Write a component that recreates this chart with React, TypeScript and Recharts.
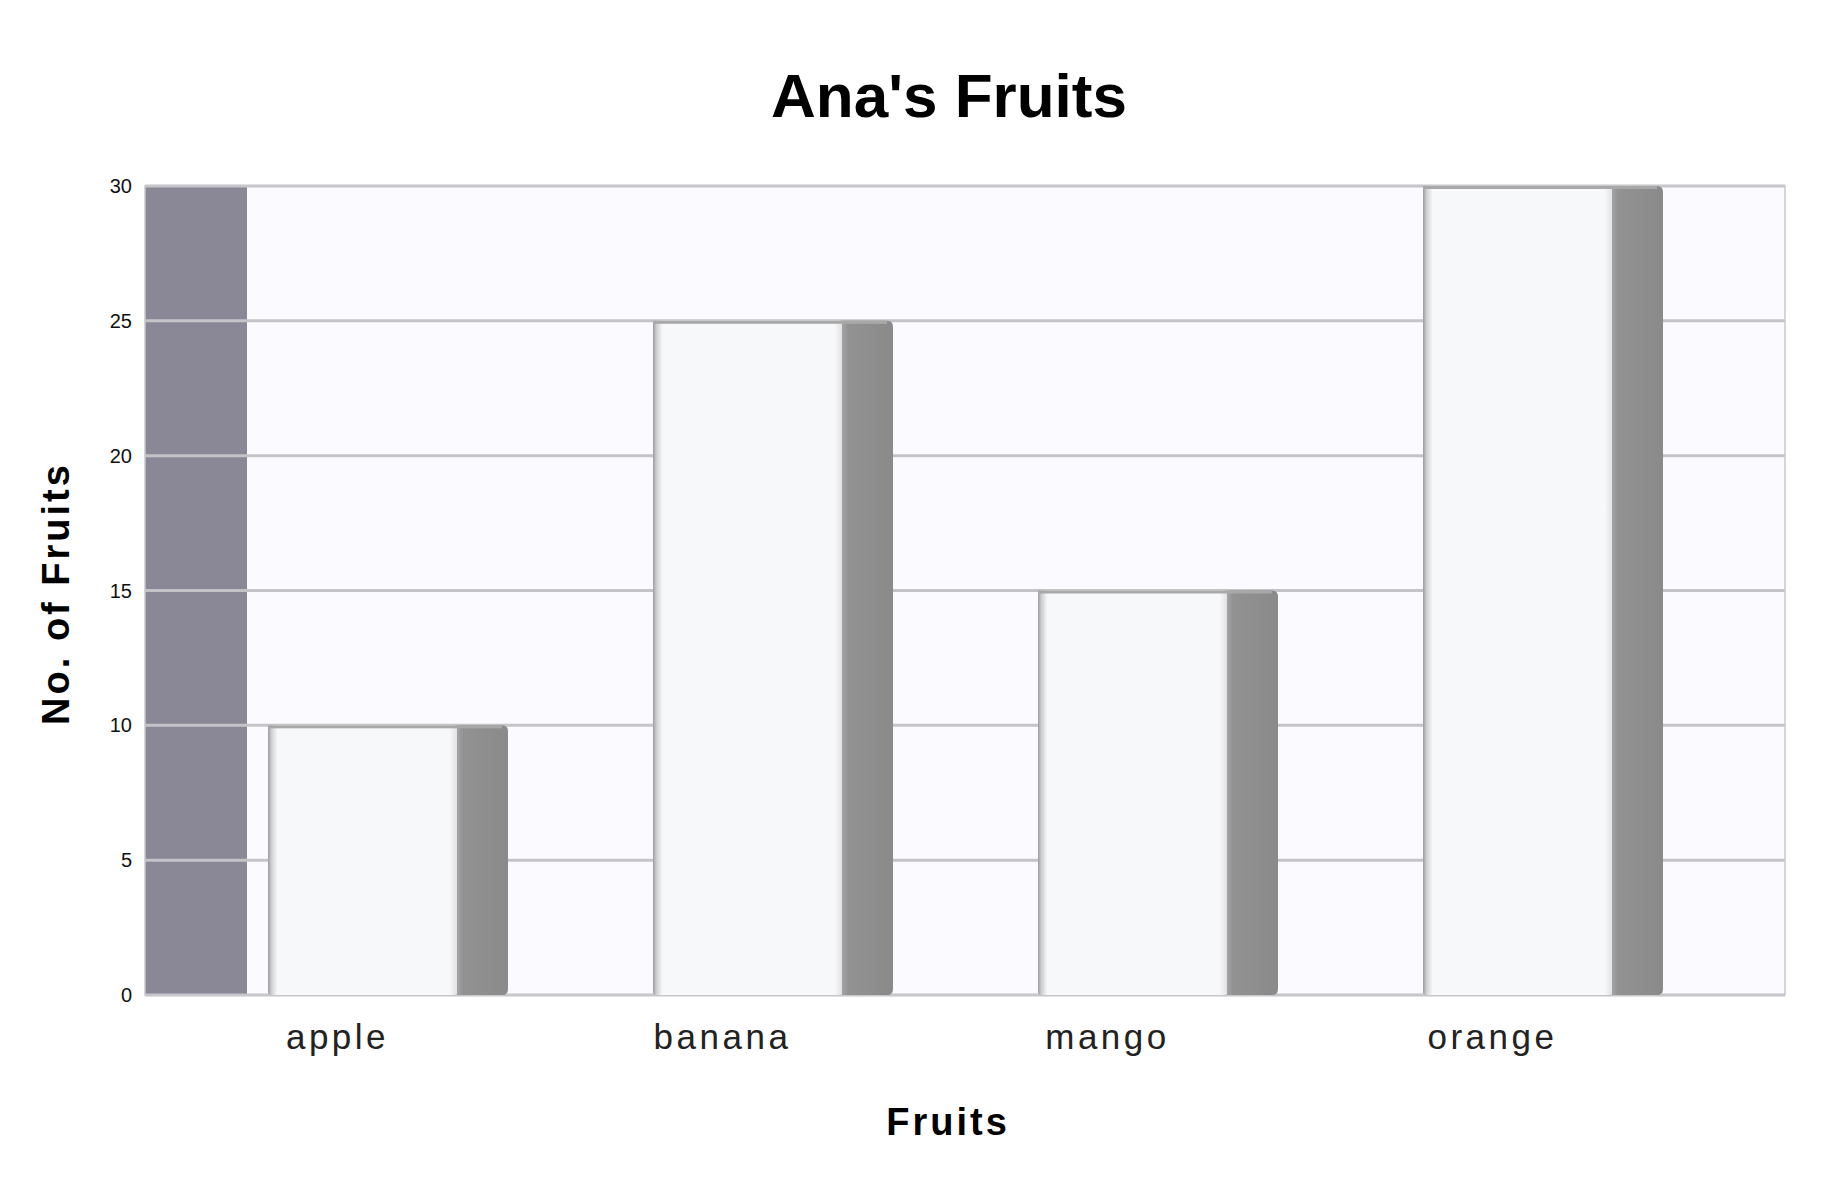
import React from 'react';
import { BarChart, Bar, XAxis, YAxis, CartesianGrid, Customized, Label } from 'recharts';

const fruits = ['apple', 'banana', 'mango', 'orange'];
const counts = [10, 25, 15, 30];
const yTicks = [0, 5, 10, 15, 20, 25, 30];

const data = fruits.map((f, i) => ({ fruit: f, count: counts[i] }));

const W = 1805;
const H = 1170;
const M = { top: 178, right: 28, left: 77, bottom: 83 };
const YW = 60;
const PL = M.left + YW;
const PT = M.top;
const PR = W - M.right;
const PB = 987;
const FONT = '"Liberation Sans", Arial, sans-serif';

const Border = () => (
  <rect x={PL} y={PT} width={PR - PL} height={PB - PT} fill="none" stroke="#c8c8cc" strokeWidth={1.5} />
);

const BarShape = (props: any) => {
  const { x, y, width, height } = props;
  const fx = x + 25;
  const sw = 51;
  const r = 6;
  const sx = fx + width;
  const shadowPath = `M${sx},${y} L${sx + sw - r},${y} Q${sx + sw},${y} ${sx + sw},${y + r} L${sx + sw},${y + height - r} Q${sx + sw},${y + height} ${sx + sw - r},${y + height} L${sx},${y + height} Z`;
  return (
    <g>
      <path d={shadowPath} fill="url(#shadowGrad)" />
      <rect x={fx} y={y} width={width} height={height} fill="url(#frontGrad)" rx={3} />
      <rect x={fx} y={y} width={width + sw - r} height={3} fill="#a8a8a8" />
    </g>
  );
};

const XTick = (props: any) => {
  const { x, y, payload } = props;
  return (
    <text x={x} y={y} dy={24} textAnchor="middle" fontSize={35} fill="#222" fontFamily={FONT} letterSpacing={3.5}>
      {payload.value}
    </text>
  );
};

const YTick = (props: any) => {
  const { x, y, payload } = props;
  return (
    <text x={x} y={y} dy={7} textAnchor="end" fontSize={20} fill="#111" fontFamily={FONT}>
      {payload.value}
    </text>
  );
};

const YLabel = () => {
  const cy = PT + (PB - PT) / 2 + 3;
  const cx = 48;
  return (
    <text
      x={cx}
      y={cy}
      transform={`rotate(-90 ${cx} ${cy})`}
      textAnchor="middle"
      dominantBaseline="central"
      fontSize={38}
      fontWeight="bold"
      fill="#000"
      fontFamily={FONT}
      letterSpacing={3}
    >
      No. of Fruits
    </text>
  );
};

const XLabel = () => (
  <text x={940} y={1127} textAnchor="middle" fontSize={38} fontWeight="bold" fill="#000" fontFamily={FONT} letterSpacing={3}>
    Fruits
  </text>
);

const Title = () => (
  <text x={941} y={109} textAnchor="middle" fontSize={62} fontWeight="bold" fill="#000" fontFamily={FONT}>
    Ana's Fruits
  </text>
);

export default function App() {
  return (
    <div style={{ width: W, height: H, background: '#fff', position: 'relative' }}>
      <svg width={W} height={H} style={{ position: 'absolute', left: 0, top: 0 }}>
        <rect x={PL} y={PT} width={PR - PL} height={PB - PT} fill="#fafaff" />
        <rect x={PL} y={PT} width={102} height={PB - PT} fill="#8a8896" />
      </svg>
      <div style={{ position: 'absolute', left: 0, top: 0 }}>
        <BarChart width={W} height={H} data={data} margin={M} barSize={189}>
          <defs>
            <linearGradient id="frontGrad" x1="0" y1="0" x2="1" y2="0">
              <stop offset="0" stopColor="#9c9c9c" />
              <stop offset="0.018" stopColor="#cfcfd2" />
              <stop offset="0.05" stopColor="#f7f8fa" />
              <stop offset="0.96" stopColor="#f7f8fa" />
              <stop offset="1" stopColor="#e2e2e4" />
            </linearGradient>
            <linearGradient id="shadowGrad" x1="0" y1="0" x2="1" y2="0">
              <stop offset="0" stopColor="#a4a4a4" />
              <stop offset="0.12" stopColor="#929292" />
              <stop offset="1" stopColor="#8a8a8a" />
            </linearGradient>
          </defs>
          <CartesianGrid vertical={false} stroke="#c4c4c8" strokeWidth={3} />
          <Customized component={<Border />} />
          <XAxis
            dataKey="fruit"
            height={100}
            axisLine={false}
            tickLine={false}
            tickSize={0}
            tickMargin={30}
            padding={{ left: 0, right: 100 }}
            tick={<XTick />}
            interval={0}
          />
          <YAxis
            width={YW}
            domain={[0, 30]}
            ticks={yTicks}
            axisLine={false}
            tickLine={false}
            tickSize={0}
            tickMargin={13}
            tick={<YTick />}
          >
            <Label content={<YLabel />} />
          </YAxis>
          <Bar dataKey="count" isAnimationActive={false} shape={<BarShape />} />
          <Customized component={<XLabel />} />
          <Customized component={<Title />} />
        </BarChart>
      </div>
    </div>
  );
}
